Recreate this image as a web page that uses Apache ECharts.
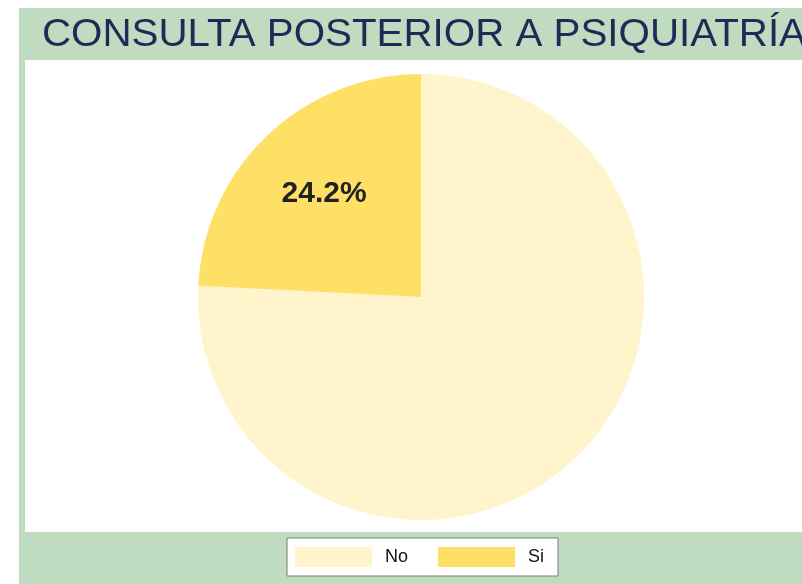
<!DOCTYPE html>
<html>
<head>
<meta charset="utf-8">
<script src="https://cdn.jsdelivr.net/npm/echarts@6/dist/echarts.min.js"></script>
<style>html,body{margin:0;padding:0;background:#fff;}#c{width:802px;height:584px;}</style>
</head>
<body>
<div id="c"></div>
<script>
const titleText = 'CONSULTA POSTERIOR A PSIQUIATRÍA';
const categories = ['No', 'Si'];
const values = [75.8, 24.2];
const colors = ['#FFF4CC', '#FFE066'];

// condensed title: scale Liberation Sans horizontally to the reference width
const titleFont = '39px "Liberation Sans"';
const ctx = document.createElement('canvas').getContext('2d');
ctx.font = titleFont;
const titleW = ctx.measureText(titleText).width;
const titleScale = 764 / titleW;

const chart = echarts.init(document.getElementById('c'), null, {renderer: 'canvas'});
chart.setOption({
  backgroundColor: '#ffffff',
  animation: false,
  graphic: [
    {type: 'rect', z: -10, shape: {x: 19, y: 8, width: 790, height: 580}, style: {fill: '#C0DCC0'}},
    {type: 'rect', z: -9, shape: {x: 25, y: 60, width: 780, height: 472}, style: {fill: '#ffffff'}},
    {type: 'text', z: 10, x: 42, y: 16, scaleX: titleScale, scaleY: 1,
      style: {text: titleText, font: titleFont, fill: '#1F2B57', verticalAlign: 'top', align: 'left'}}
  ],
  legend: {
    data: categories,
    left: 287, top: 538,
    icon: 'rect',
    itemWidth: 77, itemHeight: 20,
    itemGap: 30,
    padding: [9, 14, 9, 8],
    backgroundColor: '#ffffff',
    borderColor: '#7a7a7a', borderWidth: 1,
    textStyle: {fontFamily: 'Liberation Sans', fontSize: 18, color: '#111', padding: [0, 0, 0, 8]}
  },
  series: [{
    type: 'pie',
    center: [421, 297],
    radius: [0, 223],
    startAngle: 90,
    clockwise: true,
    silent: true,
    data: categories.map((c, i) => ({
      name: c, value: values[i],
      itemStyle: {color: colors[i]},
      label: i === 1 ? {show: true, position: 'inside', formatter: v => v.value.toFixed(1) + '%', offset: [-18, -20],
        fontFamily: 'Liberation Sans', fontWeight: 'bold', fontSize: 30, color: '#222'} : {show: false}
    })),
    labelLine: {show: false}
  }]
});
</script>
</body>
</html>
